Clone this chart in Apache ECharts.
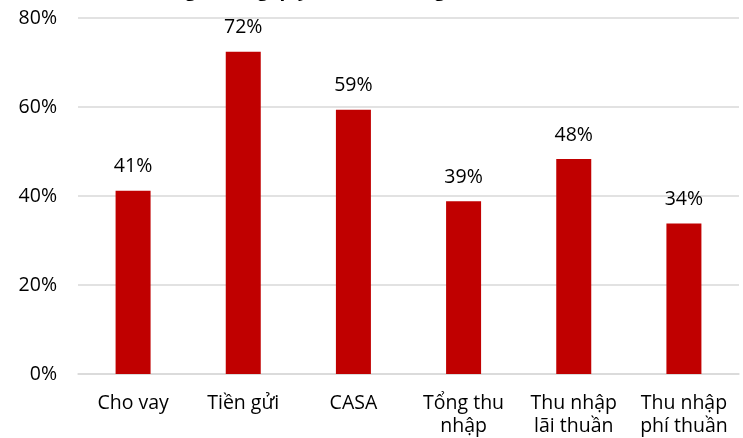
<!DOCTYPE html>
<html>
<head>
<meta charset="utf-8">
<script src="https://cdn.jsdelivr.net/npm/echarts@6/dist/echarts.min.js"></script>
<style>html,body{margin:0;padding:0;background:#fff}#c{width:743px;height:438px}</style>
</head>
<body>
<div id="c"></div>
<script>
const categories = ['Cho vay', 'Tiền gửi', 'CASA', 'Tổng thu\nnhập', 'Thu nhập\nlãi thuần', 'Thu nhập\nphí thuần'];
const values = [41.2, 72.4, 59.4, 38.8, 48.3, 33.8];
const titleText = 'Tăng trưởng quy mô hoạt động kinh doanh (%)';

const font = '"Open Sans", "Noto Sans", sans-serif';
const chart = echarts.init(document.getElementById('c'));
chart.setOption({
  animation: false,
  title: {
    text: titleText,
    left: 'center',
    top: -24,
    textStyle: { fontFamily: font, fontSize: 19, fontWeight: 'bold', color: '#000' }
  },
  grid: { left: 78, right: 4, top: 18, bottom: 64, containLabel: false },
  xAxis: {
    type: 'category',
    data: categories,
    axisLine: { lineStyle: { color: '#d9d9d9', width: 1.5 } },
    axisTick: { show: false },
    axisLabel: { fontFamily: font, fontSize: 19.5, color: '#000', margin: 18, lineHeight: 23, interval: 0 }
  },
  yAxis: {
    type: 'value',
    min: 0, max: 80, interval: 20,
    axisLine: { show: false },
    axisTick: { show: false },
    splitLine: { lineStyle: { color: '#d9d9d9', width: 1.5 } },
    axisLabel: { fontFamily: font, fontSize: 19.5, color: '#000', margin: 21, formatter: '{value}%' }
  },
  series: [{
    type: 'bar',
    data: values,
    barWidth: 35,
    itemStyle: { color: '#c00000' },
    label: {
      show: true, position: 'top', distance: 14,
      formatter: p => Math.round(p.value) + '%',
      fontFamily: font, fontSize: 19.5, color: '#000'
    }
  }]
});
</script>
</body>
</html>
